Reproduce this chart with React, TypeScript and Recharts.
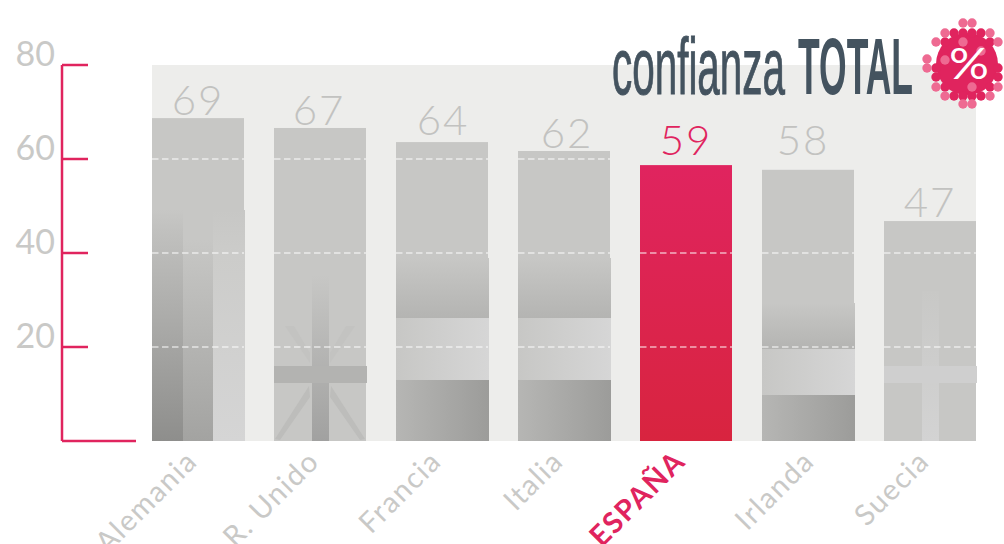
import React from "react";
import {
  BarChart,
  Bar,
  XAxis,
  YAxis,
  LabelList,
  ReferenceArea,
} from "recharts";

const countries = ["Alemania", "R. Unido", "Francia", "Italia", "ESPAÑA", "Irlanda", "Suecia"];
const barValues = [68.7, 66.6, 63.6, 61.7, 58.7, 57.7, 46.8];
const valueLabels = ["69", "67", "64", "62", "59", "58", "47"];
const yTicks = [0, 20, 40, 60, 80];
const gridValues = [20, 40, 60];

const data = countries.map((name, i) => ({ name, value: barValues[i], label: valueLabels[i] }));

const PINK = "#E0245E";
const GREY_TEXT = "#C9C9C7";
const FONT = "Lato, sans-serif";
const TITLE_FONT = "'Liberation Sans Narrow', 'Liberation Sans', sans-serif";

// the numbers over the bars were hand placed in the original
const labelGaps = [3, 3, 7, 3, 10, 15, 4];
const labelShifts = [0, -1, 1, 3, 0, -5, 0];

// dots round the % badge
const lightDots = [
  [963, 23], [972, 23], [945, 33], [990, 33], [936, 42], [998, 42], [927, 59], [927, 68],
  [936, 87], [945, 96], [990, 96], [998, 87], [963, 104], [972, 104], [963, 42], [945, 60],
  [981, 51], [972, 87],
];
const darkDots = [
  [954, 33], [963, 33], [972, 33], [981, 33], [936, 68], [936, 77], [945, 87], [954, 96],
  [963, 96], [972, 96], [981, 96], [990, 87], [998, 77], [998, 68], [945, 42], [990, 42],
];

function YTick({ x, y, payload }: any) {
  const isBase = payload.value === 0;
  return (
    <g>
      {!isBase && (
        <text x={x} y={y + 1} textAnchor="end" fontFamily={FONT} fontWeight={400} fontSize={34} fill={GREY_TEXT}>
          {payload.value}
        </text>
      )}
      <line x1={x + 7} x2={x + (isBase ? 81 : 33)} y1={y} y2={y} stroke={PINK} strokeWidth={2.5} />
    </g>
  );
}

function XTick({ x, y, payload }: any) {
  const isSpain = payload.value === "ESPAÑA";
  const tx = payload.value === "Irlanda" ? x + 8 : x + 1;
  return (
    <text
      x={tx}
      y={y}
      textAnchor="end"
      fontFamily={FONT}
      fontWeight={isSpain ? 700 : 400}
      fontSize={29}
      letterSpacing={1.5}
      fill={isSpain ? PINK : GREY_TEXT}
      transform={`rotate(-45 ${tx} ${y})`}
    >
      {payload.value}
    </text>
  );
}

function ValueLabel({ x, y, width, index, value }: any) {
  return (
    <text
      x={x + width / 2 + labelShifts[index]}
      y={y - labelGaps[index]}
      textAnchor="middle"
      fontFamily={FONT}
      fontWeight={300}
      fontSize={42}
      letterSpacing={2}
      fill={countries[index] === "ESPAÑA" ? PINK : "#C2C2C0"}
    >
      {value}
    </text>
  );
}

function FlagArt({ x, width, bottom, index }: any) {
  const w = width + 1;
  if (index === 0) {
    return (
      <g>
        <rect x={x} y={bottom - 231} width={31} height={231} fill="url(#deBlack)" />
        <rect x={x + 31} y={bottom - 201} width={30} height={201} fill="url(#deMid)" />
        <rect x={x + 61} y={bottom - 231} width={w - 61} height={231} fill="url(#deLight)" />
      </g>
    );
  }
  if (index === 1) {
    return (
      <g>
        <path d={`M${x + 1} ${bottom - 2} L${x + 35} ${bottom - 55} L${x + 36} ${bottom - 44} L${x + 6} ${bottom - 1} Z`} fill="#BDBDBB" />
        <path d={`M${x + 91} ${bottom - 2} L${x + 57} ${bottom - 55} L${x + 56} ${bottom - 44} L${x + 86} ${bottom - 1} Z`} fill="#BDBDBB" />
        <path d={`M${x + 11} ${bottom - 115} L${x + 36} ${bottom - 78} L${x + 36} ${bottom - 88} L${x + 20} ${bottom - 115} Z`} fill="#C3C3C1" />
        <path d={`M${x + 81} ${bottom - 115} L${x + 56} ${bottom - 78} L${x + 56} ${bottom - 88} L${x + 72} ${bottom - 115} Z`} fill="#C3C3C1" />
        <rect x={x + 38} y={bottom - 166} width={17} height={166} fill="url(#ukCross)" />
        <rect x={x} y={bottom - 75} width={w} height={17} fill="#B3B3B1" />
      </g>
    );
  }
  if (index === 2 || index === 3) {
    return (
      <g>
        <rect x={x} y={bottom - 183} width={w} height={60} fill="url(#fadeDown)" />
        <rect x={x} y={bottom - 123} width={w} height={62} fill="url(#bandLight)" />
        <rect x={x} y={bottom - 61} width={w} height={61} fill="url(#bandDark)" />
      </g>
    );
  }
  if (index === 5) {
    return (
      <g>
        <rect x={x} y={bottom - 138} width={w} height={46} fill="url(#fadeDown)" />
        <rect x={x} y={bottom - 92} width={w} height={46} fill="url(#bandLight)" />
        <rect x={x} y={bottom - 46} width={w} height={46} fill="url(#bandDark)" />
      </g>
    );
  }
  if (index === 6) {
    return (
      <g>
        <rect x={x + 38} y={bottom - 150} width={17} height={150} fill="url(#seCross)" />
        <rect x={x} y={bottom - 75} width={w} height={17} fill="#CFCFCF" />
      </g>
    );
  }
  return null;
}

// each bar carries its own dashed grid marks, they stop at the bar's edges
function FlagBar({ x, y, width, height, index, payload }: any) {
  const bottom = y + height;
  const isSpain = countries[index] === "ESPAÑA";
  const pxPerUnit = height / payload.value;
  return (
    <g>
      <rect x={x} y={y} width={width} height={height} fill={isSpain ? "url(#spain)" : "#C7C7C5"} />
      <FlagArt x={x} width={width} bottom={bottom} index={index} />
      {gridValues
        .filter((g) => g < payload.value)
        .map((g) => (
          <line
            key={g}
            x1={x}
            x2={x + width}
            y1={bottom - g * pxPerUnit}
            y2={bottom - g * pxPerUnit}
            stroke="#FFFFFF"
            strokeOpacity={0.65}
            strokeWidth={1.3}
            strokeDasharray="6.5 3.5"
          />
        ))}
    </g>
  );
}

function PlotBackdrop({ y, height }: any) {
  return <rect x={152} y={y} width={824} height={height} fill="#EDEDEB" />;
}

export default function App() {
  return (
    <div style={{ position: "absolute", left: 0, top: 0, width: 1004, height: 544, overflow: "hidden" }}>
      <BarChart
        width={1004}
        height={544}
        data={data}
        barSize={92}
        margin={{ top: 65, right: 13, bottom: 73, left: 0 }}
      >
        <defs>
          <linearGradient id="spain" x1="0" y1="0" x2="0" y2="1">
            <stop offset="0" stopColor="#E0245F" />
            <stop offset="1" stopColor="#D8243F" />
          </linearGradient>
          <linearGradient id="deBlack" x1="0" y1="0" x2="0" y2="1">
            <stop offset="0" stopColor="#C7C7C5" />
            <stop offset="0.1" stopColor="#C0C0BE" />
            <stop offset="1" stopColor="#8E8E8C" />
          </linearGradient>
          <linearGradient id="deMid" x1="0" y1="0" x2="0" y2="1">
            <stop offset="0" stopColor="#C7C7C5" />
            <stop offset="1" stopColor="#A3A3A1" />
          </linearGradient>
          <linearGradient id="deLight" x1="0" y1="0" x2="0" y2="1">
            <stop offset="0" stopColor="#C7C7C5" />
            <stop offset="0.2" stopColor="#CCCCCA" />
            <stop offset="1" stopColor="#D5D5D5" />
          </linearGradient>
          <linearGradient id="ukCross" x1="0" y1="0" x2="0" y2="1">
            <stop offset="0" stopColor="#C7C7C5" />
            <stop offset="1" stopColor="#A1A1A0" />
          </linearGradient>
          <linearGradient id="seCross" x1="0" y1="0" x2="0" y2="1">
            <stop offset="0" stopColor="#C8C8C6" />
            <stop offset="1" stopColor="#D3D3D3" />
          </linearGradient>
          <linearGradient id="fadeDown" x1="0" y1="0" x2="0" y2="1">
            <stop offset="0" stopColor="#C7C7C5" />
            <stop offset="1" stopColor="#B4B4B2" />
          </linearGradient>
          <linearGradient id="bandLight" x1="0" y1="0" x2="1" y2="0">
            <stop offset="0" stopColor="#C7C7C5" />
            <stop offset="1" stopColor="#D6D6D6" />
          </linearGradient>
          <linearGradient id="bandDark" x1="0" y1="0" x2="1" y2="0">
            <stop offset="0" stopColor="#B6B6B4" />
            <stop offset="1" stopColor="#9C9C9A" />
          </linearGradient>
        </defs>
        <ReferenceArea y1={0} y2={80} shape={PlotBackdrop} />
        <XAxis
          dataKey="name"
          interval={0}
          padding={{ left: 75, right: 0 }}
          axisLine={false}
          tickLine={false}
          tickSize={0}
          tickMargin={22}
          tick={XTick}
        />
        <YAxis
          width={62}
          domain={[0, 80]}
          ticks={yTicks}
          axisLine={{ stroke: PINK, strokeWidth: 2.5 }}
          tickLine={false}
          tickSize={0}
          tickMargin={7}
          tick={YTick}
        />
        <Bar dataKey="value" isAnimationActive={false} shape={FlagBar}>
          <LabelList dataKey="label" content={ValueLabel} />
        </Bar>
      </BarChart>
      {/* title and badge sit above the chart's layers */}
      <svg width={1004} height={544} style={{ position: "absolute", left: 0, top: 0, pointerEvents: "none" }}>
        <text x={612} y={94} fontFamily={TITLE_FONT} fontSize={79} fontWeight={400} fill="#44535F" stroke="#44535F" strokeWidth={1} textLength={173} lengthAdjust="spacingAndGlyphs">
          confianza
        </text>
        <text x={798} y={94} fontFamily={TITLE_FONT} fontSize={80} fontWeight={700} fill="#44535F" textLength={115} lengthAdjust="spacingAndGlyphs">
          TOTAL
        </text>
        <circle cx={967} cy={64} r={31} fill={PINK} />
        {darkDots.map(([cx, cy]) => (
          <circle key={`d${cx}-${cy}`} cx={cx} cy={cy} r={4.7} fill={PINK} />
        ))}
        {lightDots.map(([cx, cy]) => (
          <circle key={`l${cx}-${cy}`} cx={cx} cy={cy} r={4.7} fill="#EE6A92" />
        ))}
        <text x={949} y={79} fontFamily={FONT} fontSize={42} fill="#FFFFFF" textLength={40} lengthAdjust="spacingAndGlyphs">
          %
        </text>
      </svg>
    </div>
  );
}
